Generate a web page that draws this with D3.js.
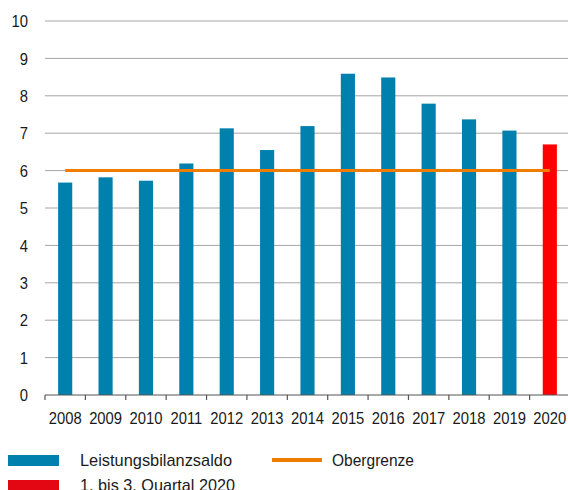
<!DOCTYPE html>
<html>
<head>
<meta charset="utf-8">
<script src="https://cdn.jsdelivr.net/npm/d3@7"></script>
<style>
  body { margin: 0; background: #fff; }
  svg { display: block; font-family: "Liberation Sans", Arial, sans-serif; }
</style>
</head>
<body>
<svg width="568" height="490"></svg>
<script>
// Daten
const years = ["2008", "2009", "2010", "2011", "2012", "2013", "2014", "2015", "2016", "2017", "2018", "2019", "2020"];
const saldo = [5.68, 5.82, 5.73, 6.19, 7.13, 6.55, 7.19, 8.59, 8.49, 7.79, 7.37, 7.07, 6.70];
const obergrenze = [6, 6, 6, 6, 6, 6, 6, 6, 6, 6, 6, 6, 6];
const yTicks = [0, 1, 2, 3, 4, 5, 6, 7, 8, 9, 10];

const svg = d3.select("svg");
const plotLeft = 45, plotRight = 570, plotTop = 21, plotBottom = 395;
const narrow = "scale(0.87,1)"; // schmale Schrift nachbilden

const x = d3.scaleBand()
    .domain(years)
    .range([plotLeft, plotRight])
    .paddingInner(0.65)
    .paddingOuter(0.325);

const y = d3.scaleLinear()
    .domain([0, 10])
    .range([plotBottom, plotTop]);

// Gitterlinien
svg.append("g")
    .selectAll("line")
    .data(yTicks.filter(d => d > 0))
    .join("line")
    .attr("x1", plotLeft)
    .attr("x2", 568)
    .attr("y1", d => y(d))
    .attr("y2", d => y(d))
    .attr("stroke", "#a6a6a6")
    .attr("stroke-width", 1);

// y-Achse Beschriftung
svg.append("g")
    .selectAll("g")
    .data(yTicks)
    .join("g")
    .attr("transform", d => `translate(28,${y(d)})`)
    .append("text")
    .attr("transform", narrow)
    .attr("dy", "0.36em")
    .attr("text-anchor", "end")
    .attr("font-size", 17)
    .attr("fill", "#1a1a1a")
    .text(d => d);

// Balken
svg.append("g")
    .selectAll("rect")
    .data(saldo)
    .join("rect")
    .attr("x", (d, i) => x(years[i]))
    .attr("y", d => y(d))
    .attr("width", x.bandwidth())
    .attr("height", d => y(0) - y(d))
    .attr("fill", (d, i) => years[i] === "2020" ? "#ff0000" : "#0080ad");

// x-Achse
const xAxis = d3.axisBottom(x).tickSize(0).tickPadding(0);
const gx = svg.append("g")
    .attr("transform", `translate(0,${plotBottom})`)
    .call(xAxis);
gx.select(".domain").remove();
gx.attr("font-family", null).attr("font-size", null);
gx.selectAll("text")
    .attr("y", 0)
    .attr("dy", 0)
    .attr("transform", "translate(0,29) " + narrow)
    .attr("font-size", 17)
    .attr("fill", "#1a1a1a");

svg.append("line")
    .attr("x1", plotLeft).attr("x2", 568)
    .attr("y1", plotBottom).attr("y2", plotBottom)
    .attr("stroke", "#555").attr("stroke-width", 1.2);

const step = x.step();
svg.append("g")
    .selectAll("line")
    .data(d3.range(years.length + 1))
    .join("line")
    .attr("x1", i => plotLeft + i * step)
    .attr("x2", i => plotLeft + i * step)
    .attr("y1", plotBottom)
    .attr("y2", plotBottom + 5)
    .attr("stroke", "#555")
    .attr("stroke-width", 1.2);

// Obergrenze
const line = d3.line()
    .x((d, i) => x(years[i]) + x.bandwidth() / 2)
    .y(d => y(d));
svg.append("path")
    .attr("d", line(obergrenze))
    .attr("fill", "none")
    .attr("stroke", "#f07d00")
    .attr("stroke-width", 3);

// Legende
const legend = svg.append("g").attr("font-size", 17).attr("fill", "#1a1a1a");
legend.append("rect").attr("x", 8).attr("y", 455).attr("width", 51).attr("height", 11).attr("fill", "#0080ad");
legend.append("text").attr("x", 80).attr("y", 466)
    .attr("textLength", 152).attr("lengthAdjust", "spacingAndGlyphs")
    .text("Leistungsbilanzsaldo");
legend.append("rect").attr("x", 8).attr("y", 480).attr("width", 51).attr("height", 11).attr("fill", "#e30613");
legend.append("text").attr("x", 80).attr("y", 491)
    .attr("textLength", 155).attr("lengthAdjust", "spacingAndGlyphs")
    .text("1. bis 3. Quartal 2020");
legend.append("line").attr("x1", 272).attr("x2", 322).attr("y1", 460).attr("y2", 460)
    .attr("stroke", "#f07d00").attr("stroke-width", 4);
legend.append("text").attr("x", 332).attr("y", 466)
    .attr("textLength", 82).attr("lengthAdjust", "spacingAndGlyphs")
    .text("Obergrenze");
</script>
</body>
</html>
